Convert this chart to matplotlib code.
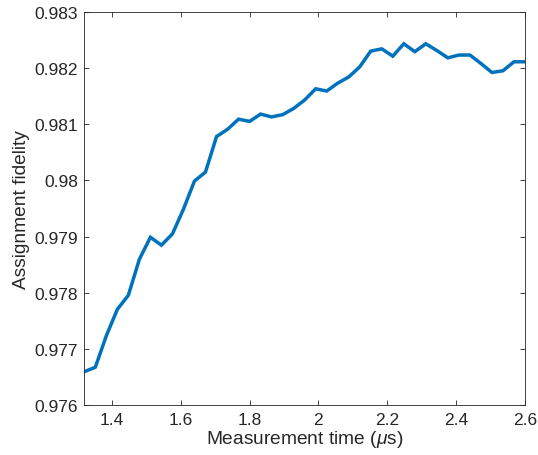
import numpy as np
import matplotlib
matplotlib.use('Agg')
import matplotlib.pyplot as plt

# 測定時間 (us) と割り当て忠実度
meas_time = [1.32, 1.352, 1.384, 1.416, 1.448, 1.48, 1.512, 1.544, 1.576, 1.608,
             1.64, 1.672, 1.704, 1.736, 1.768, 1.8, 1.832, 1.864, 1.896, 1.928,
             1.96, 1.992, 2.024, 2.056, 2.088, 2.12, 2.152, 2.184, 2.216, 2.248,
             2.28, 2.312, 2.344, 2.376, 2.408, 2.44, 2.472, 2.504, 2.536, 2.568,
             2.6]
fidelity = [0.97660, 0.97668, 0.97724, 0.97771, 0.97796, 0.97860, 0.97899, 0.97885,
            0.97905, 0.97949, 0.97999, 0.98015, 0.98078, 0.98091, 0.98109, 0.98105,
            0.98118, 0.98113, 0.98117, 0.98128, 0.98143, 0.98163, 0.98159, 0.98173,
            0.98184, 0.98202, 0.98230, 0.98234, 0.98221, 0.98243, 0.98229, 0.98243,
            0.98231, 0.98218, 0.98223, 0.98223, 0.98208, 0.98192, 0.98195, 0.98211,
            0.98211]

x_ticks = [1.4, 1.6, 1.8, 2.0, 2.2, 2.4, 2.6]
x_tick_labels = ['1.4', '1.6', '1.8', '2', '2.2', '2.4', '2.6']
y_ticks = [0.976, 0.977, 0.978, 0.979, 0.980, 0.981, 0.982, 0.983]
y_tick_labels = ['0.976', '0.977', '0.978', '0.979', '0.98', '0.981', '0.982', '0.983']

plt.rcParams['font.family'] = ['Liberation Sans', 'DejaVu Sans']
plt.rcParams['mathtext.fontset'] = 'custom'
plt.rcParams['mathtext.it'] = 'Liberation Sans:italic'
plt.rcParams['mathtext.rm'] = 'Liberation Sans'

axis_gray = '#262626'

fig = plt.figure(figsize=(5.38, 4.56), dpi=100)
ax = fig.add_axes([0.1567, 0.1086, 0.9758 - 0.1567, 0.9721 - 0.1086])

ax.plot(meas_time, fidelity, color='#0072BD', linewidth=2.5, solid_joinstyle='miter')

ax.set_xlim(1.32, 2.6)
ax.set_ylim(0.976, 0.983)
ax.set_xticks(x_ticks)
ax.set_xticklabels(x_tick_labels)
ax.set_yticks(y_ticks)
ax.set_yticklabels(y_tick_labels)

ax.tick_params(direction='in', length=3.5, width=0.6, colors=axis_gray,
               labelsize=12.5, top=True, right=True, pad=4.6)
for s in ax.spines.values():
    s.set_color(axis_gray)
    s.set_linewidth(0.6)

ax.set_xlabel(r'Measurement time ($\mu$s)', fontsize=13.8, color=axis_gray, labelpad=1)
ax.set_ylabel('Assignment fidelity', fontsize=13.8, color=axis_gray, labelpad=3)

plt.savefig('out.png', dpi=100)
